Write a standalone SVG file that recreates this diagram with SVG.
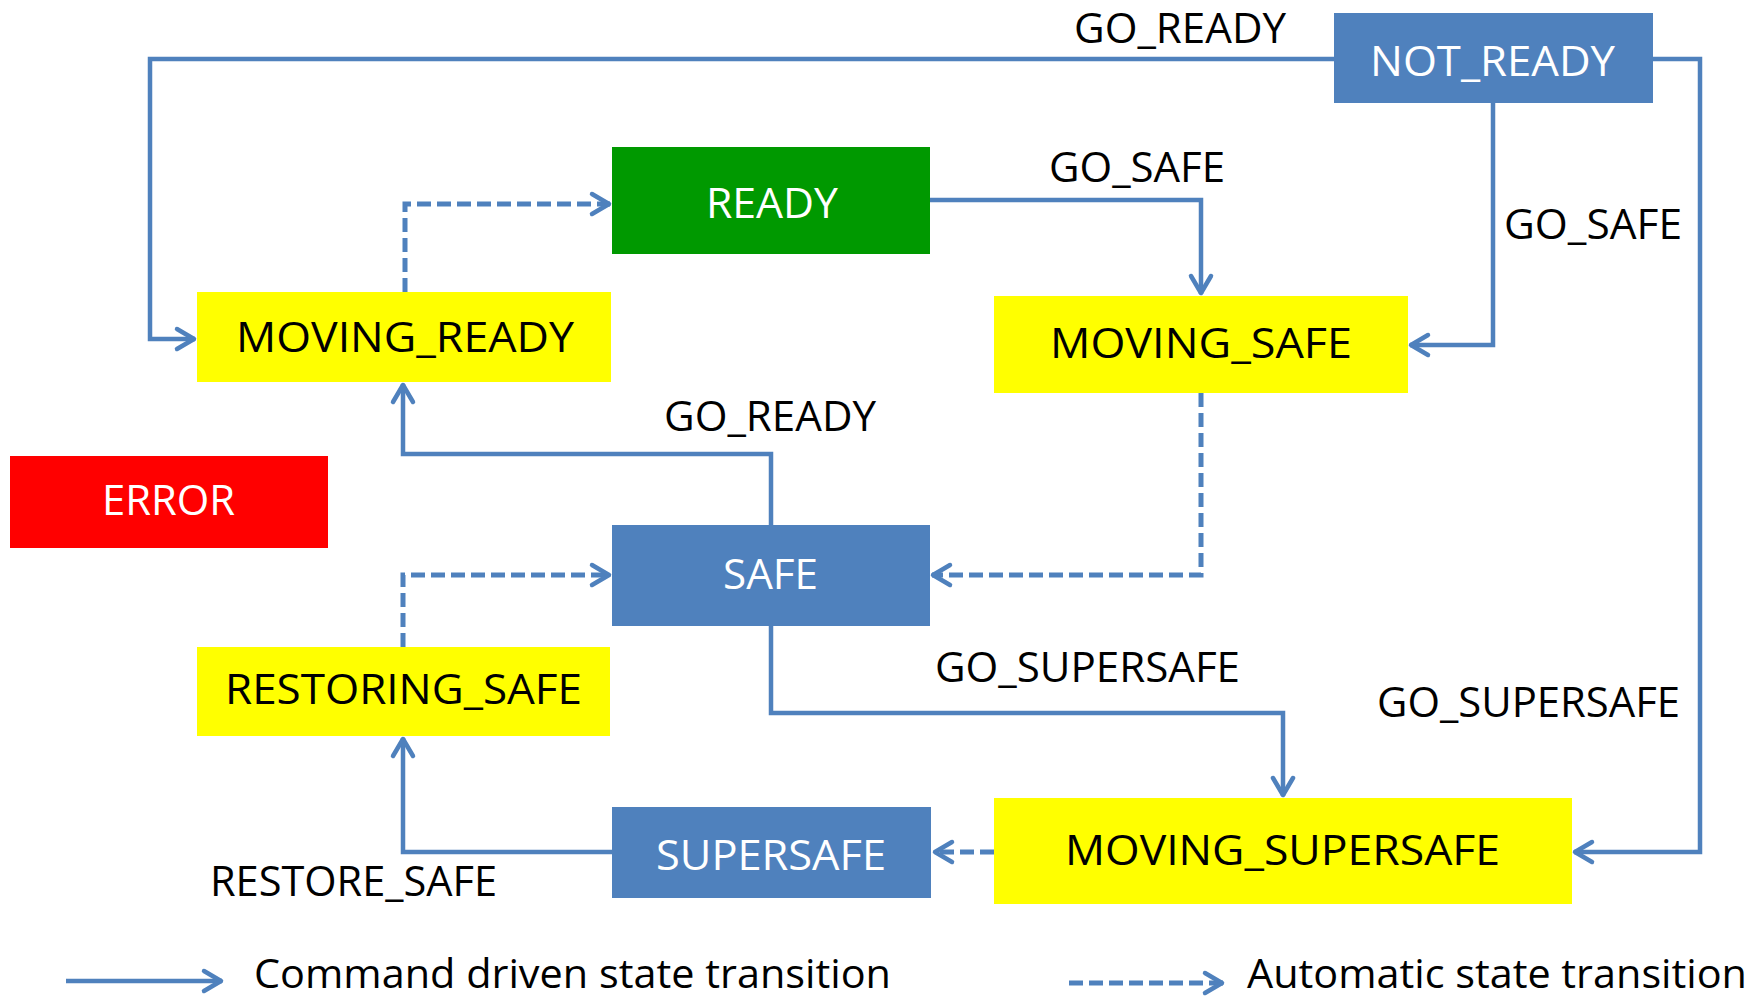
<svg xmlns="http://www.w3.org/2000/svg" width="1762" height="999" viewBox="0 0 1762 999">
  <style>
    text { font-family: "Open Sans", "Liberation Sans", sans-serif; font-size: 42px; }
    .lbl { fill: #000000; }
    .legend-txt { font-size: 41px; }
    .on-dark { fill: #ffffff; }
    .on-light { fill: #000000; }
    .blue { fill: #4f81bd; }
    .yellow { fill: #ffff00; }
    .green { fill: #009900; }
    .red { fill: #ff0000; }
    .cmd { fill: none; stroke: #4f81bd; stroke-width: 4.5; stroke-linejoin: miter; marker-end: url(#chev); }
    .auto { fill: none; stroke: #4f81bd; stroke-width: 5; stroke-dasharray: 14 6; marker-end: url(#chev); }
  </style>
  <defs>
    <marker id="chev" markerUnits="userSpaceOnUse" viewBox="-22 -14 26 28" refX="1" refY="0" markerWidth="26" markerHeight="28" orient="auto">
      <path d="M -17,-10 L 0,0 L -17,10" fill="none" stroke="#4f81bd" stroke-width="4.5" stroke-linecap="round" stroke-linejoin="round"/>
    </marker>
  </defs>

  <rect width="1762" height="999" fill="#ffffff"/>

  <!-- transitions -->
  <g id="connectors">
    <path class="cmd" d="M 1334,59 L 150,59 L 150,339 L 195,339"/>
    <path class="cmd" d="M 1653,59 L 1700,59 L 1700,852 L 1574,852"/>
    <path class="cmd" d="M 1493,103 L 1493,345 L 1410,345"/>
    <path class="cmd" d="M 930,200 L 1201,200 L 1201,294"/>
    <path class="auto" d="M 405,292 L 405,204 L 610,204"/>
    <path class="cmd" d="M 771,525 L 771,454 L 403,454 L 403,384"/>
    <path class="auto" d="M 1201,393 L 1201,575 L 932,575"/>
    <path class="auto" d="M 403,647 L 403,575 L 610,575"/>
    <path class="cmd" d="M 771,626 L 771,713 L 1283,713 L 1283,796"/>
    <path class="auto" d="M 994,852 L 934,852"/>
    <path class="cmd" d="M 612,852 L 403,852 L 403,738"/>
  </g>

  <!-- transition labels -->
  <g id="labels">
    <text class="lbl" x="1074" y="43" textLength="212" lengthAdjust="spacingAndGlyphs">GO_READY</text>
    <text class="lbl" x="1049" y="182" textLength="176" lengthAdjust="spacingAndGlyphs">GO_SAFE</text>
    <text class="lbl" x="1504" y="239" textLength="178" lengthAdjust="spacingAndGlyphs">GO_SAFE</text>
    <text class="lbl" x="664" y="431" textLength="212" lengthAdjust="spacingAndGlyphs">GO_READY</text>
    <text class="lbl" x="935" y="682" textLength="305" lengthAdjust="spacingAndGlyphs">GO_SUPERSAFE</text>
    <text class="lbl" x="1377" y="717" textLength="303" lengthAdjust="spacingAndGlyphs">GO_SUPERSAFE</text>
    <text class="lbl" x="210" y="896" textLength="287" lengthAdjust="spacingAndGlyphs">RESTORE_SAFE</text>
  </g>

  <!-- states -->
  <g id="not_ready">
    <rect class="blue" x="1334" y="13" width="319" height="90"/>
    <text class="on-dark" x="1370" y="76" textLength="245" lengthAdjust="spacingAndGlyphs">NOT_READY</text>
  </g>
  <g id="ready">
    <rect class="green" x="612" y="147" width="318" height="107"/>
    <text class="on-dark" x="706" y="218" textLength="132" lengthAdjust="spacingAndGlyphs">READY</text>
  </g>
  <g id="moving_ready">
    <rect class="yellow" x="197" y="292" width="414" height="90"/>
    <text class="on-light" x="236" y="352" textLength="338" lengthAdjust="spacingAndGlyphs">MOVING_READY</text>
  </g>
  <g id="moving_safe">
    <rect class="yellow" x="994" y="296" width="414" height="97"/>
    <text class="on-light" x="1050" y="358" textLength="302" lengthAdjust="spacingAndGlyphs">MOVING_SAFE</text>
  </g>
  <g id="error">
    <rect class="red" x="10" y="456" width="318" height="92"/>
    <text class="on-dark" x="102" y="515" textLength="133" lengthAdjust="spacingAndGlyphs">ERROR</text>
  </g>
  <g id="safe">
    <rect class="blue" x="612" y="525" width="318" height="101"/>
    <text class="on-dark" x="723" y="589" textLength="95" lengthAdjust="spacingAndGlyphs">SAFE</text>
  </g>
  <g id="restoring_safe">
    <rect class="yellow" x="197" y="647" width="413" height="89"/>
    <text class="on-light" x="225" y="704" textLength="357" lengthAdjust="spacingAndGlyphs">RESTORING_SAFE</text>
  </g>
  <g id="supersafe">
    <rect class="blue" x="612" y="807" width="319" height="91"/>
    <text class="on-dark" x="656" y="870" textLength="230" lengthAdjust="spacingAndGlyphs">SUPERSAFE</text>
  </g>
  <g id="moving_supersafe">
    <rect class="yellow" x="994" y="798" width="578" height="106"/>
    <text class="on-light" x="1065" y="865" textLength="435" lengthAdjust="spacingAndGlyphs">MOVING_SUPERSAFE</text>
  </g>

  <!-- legend -->
  <g id="legend">
    <path class="cmd" d="M 66,981 L 222,981"/>
    <text class="lbl legend-txt" x="254" y="988" textLength="637" lengthAdjust="spacingAndGlyphs">Command driven state transition</text>
    <path class="auto" d="M 1069,983 L 1223,983"/>
    <text class="lbl legend-txt" x="1247" y="988" textLength="500" lengthAdjust="spacingAndGlyphs">Automatic state transition</text>
  </g>
</svg>
